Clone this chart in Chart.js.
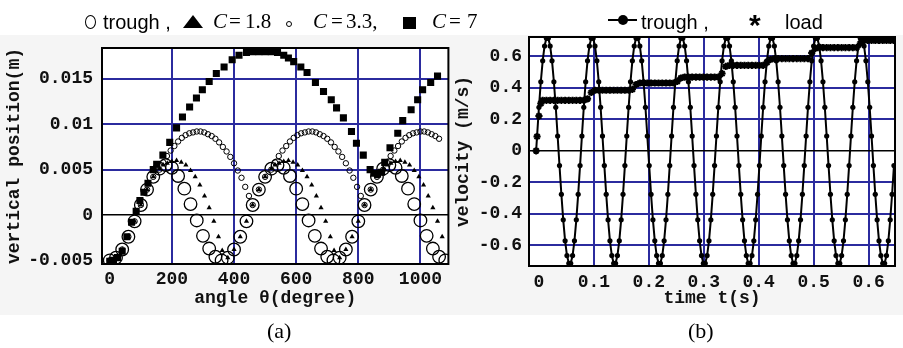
<!DOCTYPE html>
<html><head><meta charset="utf-8">
<script src="https://cdn.jsdelivr.net/npm/chart.js@4.4.1/dist/chart.umd.min.js"></script>
<style>
html,body{margin:0;padding:0;background:#fff;}
body{width:903px;height:348px;position:relative;overflow:hidden;}
#bg{position:absolute;left:0;top:35px;width:903px;height:280px;background:#f5f5f5;}
canvas{position:absolute;top:0;}
#ca{left:0;} #cb{left:450px;}
.t{position:absolute;white-space:nowrap;color:#000;}
.sans{font-family:'Liberation Sans',Arial,sans-serif;font-size:20px;line-height:20px;}
.serif{font-family:'Liberation Serif','Times New Roman',serif;font-size:21px;line-height:21px;}
.shape{position:absolute;box-sizing:border-box;}
</style></head><body>
<div id="bg"></div>
<canvas id="ca" width="456" height="348"></canvas>
<canvas id="cb" width="453" height="348"></canvas>

<!-- legend (a) -->
<div class="shape" style="left:85px;top:15px;width:11px;height:14px;border:1.5px solid #000;border-radius:50%;"></div>
<div class="t sans" style="left:103px;top:12px;">trough ,</div>
<div class="shape" style="left:183px;top:15px;width:20px;height:13px;background:#000;clip-path:polygon(50% 0,100% 100%,0 100%);"></div>
<div class="t serif" style="left:213px;top:11px;"><i>C</i></div>
<div class="t serif" style="left:229px;top:11px;">=</div>
<div class="t serif" style="left:245px;top:11px;">1.8</div>
<div class="shape" style="left:286px;top:21px;width:6px;height:6px;border:1px solid #000;border-radius:50%;"></div>
<div class="t serif" style="left:313px;top:11px;"><i>C</i></div>
<div class="t serif" style="left:331px;top:11px;">=</div>
<div class="t serif" style="left:346px;top:11px;">3.3,</div>
<div class="shape" style="left:403px;top:17px;width:13px;height:12px;background:#000;"></div>
<div class="t serif" style="left:432px;top:11px;"><i>C</i></div>
<div class="t serif" style="left:449px;top:11px;">=</div>
<div class="t serif" style="left:467px;top:11px;">7</div>

<!-- legend (b) -->
<div class="shape" style="left:608px;top:19px;width:29px;height:2px;background:#000;"></div>
<div class="shape" style="left:618px;top:15px;width:10px;height:10px;background:#000;border-radius:50%;"></div>
<div class="t sans" style="left:641px;top:12px;">trough ,</div>
<div class="t sans" style="left:749px;top:10px;font-size:30px;line-height:30px;font-weight:bold;">*</div>
<div class="t sans" style="left:785px;top:12px;">load</div>

<!-- captions -->
<div class="t serif" style="left:267px;top:320px;font-size:22px;line-height:22px;">(a)</div>
<div class="t serif" style="left:688px;top:320px;font-size:22px;line-height:22px;">(b)</div>

<script>
// ---------- Panel (a): vertical position vs angle ----------
const xTicksA = [0, 200, 400, 600, 800, 1000];
const xTickLabelsA = ["0", "200", "400", "600", "800", "1000"];
const yTicksA = [-0.005, 0, 0.005, 0.01, 0.015];
const yTickLabelsA = ["-0.005", "0", "0.005", "0.01", "0.015"];

const thetaTrough = [0,20,40,60,80,100,120,140,160,180,200,220,240,260,280,300,320,340,
  360,380,400,420,440,460,480,500,520,540,560,580,600,620,640,660,680,700,
  720,740,760,780,800,820,840,860,880,900,920,940,960,980,1000,1020,1040,1060,1080];
const posTrough = [
  -0.0050,-0.0047,-0.0038,-0.0024,-0.0007,0.0011,0.0028,0.0042,0.0051,0.0055,0.0052,0.0043,0.0029,0.0012,-0.0006,-0.0023,-0.0037,-0.0046,
  -0.0050,-0.0047,-0.0038,-0.0024,-0.0007,0.0011,0.0028,0.0042,0.0051,0.0055,0.0052,0.0043,0.0029,0.0012,-0.0006,-0.0023,-0.0037,-0.0046,
  -0.0050,-0.0047,-0.0038,-0.0024,-0.0007,0.0011,0.0028,0.0042,0.0051,0.0055,0.0052,0.0043,0.0029,0.0012,-0.0006,-0.0023,-0.0037,-0.0046,
  -0.0050];

const theta18 = [0,20,40,60,80,100,120,140,160,172,185,200,215,230,245,260,275,290,305,320,
  335,350,362,380,400,420,440,460,480,500,520,532,545,560,575,590,605,620,635,650,
  665,680,695,710,722,740,760,780,800,820,840,860,880,892,905,920,935,950,965,980,
  995,1010,1025,1040,1055,1070];
const pos18 = [-0.0050,-0.0047,-0.0038,-0.0024,-0.0007,0.0011,0.0028,0.0042,0.0051,0.0055,
  0.0057,0.0059,0.0060,0.0058,0.0055,0.0049,0.0042,0.0033,0.0021,0.0008,
  -0.0007,-0.0024,-0.0039,-0.0047,-0.0038,-0.0024,-0.0007,0.0011,0.0028,0.0042,
  0.0051,0.0055,0.0057,0.0059,0.0060,0.0058,0.0055,0.0049,0.0042,0.0033,
  0.0021,0.0008,-0.0007,-0.0024,-0.0039,-0.0047,-0.0038,-0.0024,-0.0007,0.0011,
  0.0028,0.0042,0.0051,0.0055,0.0057,0.0059,0.0060,0.0058,0.0055,0.0049,
  0.0042,0.0033,0.0021,0.0008,-0.0007,-0.0024];

const theta33 = [0,20,40,60,80,100,120,140,160,172,184,196,208,220,232,244,256,268,280,292,
  304,316,328,340,352,364,376,388,400,412,424,436,448,460,480,500,520,532,544,556,
  568,580,592,604,616,628,640,652,664,676,688,700,712,724,736,748,760,772,784,796,
  808,820,840,860,880,892,904,916,928,940,952,964,976,988,1000,1012,1024,1036,1048,1060];
const pos33 = [-0.0050,-0.0047,-0.0038,-0.0024,-0.0007,0.0011,0.0028,0.0042,0.0050,0.0058,
  0.0065,0.0071,0.0076,0.0081,0.0085,0.0088,0.0090,0.0091,0.0092,0.0092,
  0.0091,0.0089,0.0087,0.0084,0.0080,0.0075,0.0070,0.0064,0.0057,0.0049,
  0.0041,0.0031,0.0021,0.0011,0.0028,0.0042,0.0050,0.0058,0.0065,0.0071,
  0.0076,0.0081,0.0085,0.0088,0.0090,0.0091,0.0092,0.0092,0.0091,0.0089,
  0.0087,0.0084,0.0080,0.0075,0.0070,0.0064,0.0057,0.0049,0.0041,0.0031,
  0.0021,0.0011,0.0028,0.0042,0.0050,0.0058,0.0065,0.0071,0.0076,0.0081,
  0.0085,0.0088,0.0090,0.0091,0.0092,0.0092,0.0091,0.0089,0.0087,0.0084];

const theta7 = [0,12,25,40,55,70,85,97,110,123,140,151,171,193,215,234,257,279,298,320,
  343,368,394,416,440,460,480,500,520,540,560,575,592,615,635,662,688,713,730,752,
  778,794,816,838,850,862,875,885,902,927,943,970,991,1007,1033,1055];
const pos7 = [-0.0051,-0.0050,-0.0047,-0.0040,-0.0024,-0.0008,0.0004,0.0016,0.0025,0.0035,
  0.0050,0.0056,0.0066,0.0080,0.0096,0.0108,0.0119,0.0129,0.0138,0.0147,
  0.0156,0.0163,0.0171,0.0176,0.0179,0.0180,0.0180,0.0180,0.0180,0.0179,
  0.0176,0.0173,0.0169,0.0163,0.0157,0.0146,0.0136,0.0127,0.0118,0.0107,
  0.0092,0.0079,0.0066,0.0050,0.0046,0.0045,0.0047,0.0058,0.0074,0.0090,
  0.0104,0.0116,0.0127,0.0138,0.0146,0.0153];

// ---------- Panel (b): velocity vs time ----------
const xTicksB = [0, 0.1, 0.2, 0.3, 0.4, 0.5, 0.6];
const xTickLabelsB = ["0", "0.1", "0.2", "0.3", "0.4", "0.5", "0.6"];
const yTicksB = [-0.6, -0.4, -0.2, 0, 0.2, 0.4, 0.6];
const yTickLabelsB = ["-0.6", "-0.4", "-0.2", "0", "0.2", "0.4", "0.6"];

const tTrough = [-0.005,
  -0.0033,0.0001,0.0035,0.0069,0.0103,0.0137,0.0171,0.0205,0.0239,0.0273,0.0307,0.0341,
  0.0375,0.0409,0.0443,0.0477,0.0511,0.0545,0.0579,0.0613,0.0647,0.0681,0.0715,0.0749,
  0.0783,0.0817,0.0851,0.0885,0.0919,0.0953,0.0987,0.1021,0.1055,0.1089,0.1123,0.1157,
  0.1191,0.1225,0.1259,0.1293,0.1327,0.1361,0.1395,0.1429,0.1463,0.1497,0.1531,0.1565,
  0.1599,0.1633,0.1667,0.1701,0.1735,0.1769,0.1803,0.1837,0.1871,0.1905,0.1939,0.1973,
  0.2007,0.2041,0.2075,0.2109,0.2143,0.2177,0.2211,0.2245,0.2279,0.2313,0.2347,0.2381,
  0.2415,0.2449,0.2483,0.2517,0.2551,0.2585,0.2619,0.2653,0.2687,0.2721,0.2755,0.2789,
  0.2823,0.2857,0.2891,0.2925,0.2959,0.2993,0.3027,0.3061,0.3095,0.3129,0.3163,0.3197,
  0.3231,0.3265,0.3299,0.3333,0.3367,0.3401,0.3435,0.3469,0.3503,0.3537,0.3571,0.3605,
  0.3639,0.3673,0.3707,0.3741,0.3775,0.3809,0.3843,0.3877,0.3911,0.3945,0.3979,0.4013,
  0.4047,0.4081,0.4115,0.4149,0.4183,0.4217,0.4251,0.4285,0.4319,0.4353,0.4387,0.4421,
  0.4455,0.4489,0.4523,0.4557,0.4591,0.4625,0.4659,0.4693,0.4727,0.4761,0.4795,0.4829,
  0.4863,0.4897,0.4931,0.4965,0.4999,0.5033,0.5067,0.5101,0.5135,0.5169,0.5203,0.5237,
  0.5271,0.5305,0.5339,0.5373,0.5407,0.5441,0.5475,0.5509,0.5543,0.5577,0.5611,0.5645,
  0.5679,0.5713,0.5747,0.5781,0.5815,0.5849,0.5883,0.5917,0.5951,0.5985,0.6019,0.6053,
  0.6087,0.6121,0.6155,0.6189,0.6223,0.6257,0.6291,0.6325,0.6359,0.6393,0.6427,0.6461];
const vTrough = [0,
  0.094,0.276,0.438,0.571,0.665,0.714,0.714,0.665,0.571,0.438,0.276,0.094,-0.094,-0.276,-0.438,-0.571,-0.665,-0.714,-0.714,-0.665,-0.571,-0.438,-0.276,-0.094,
  0.094,0.276,0.438,0.571,0.665,0.714,0.714,0.665,0.571,0.438,0.276,0.094,-0.094,-0.276,-0.438,-0.571,-0.665,-0.714,-0.714,-0.665,-0.571,-0.438,-0.276,-0.094,
  0.094,0.276,0.438,0.571,0.665,0.714,0.714,0.665,0.571,0.438,0.276,0.094,-0.094,-0.276,-0.438,-0.571,-0.665,-0.714,-0.714,-0.665,-0.571,-0.438,-0.276,-0.094,
  0.094,0.276,0.438,0.571,0.665,0.714,0.714,0.665,0.571,0.438,0.276,0.094,-0.094,-0.276,-0.438,-0.571,-0.665,-0.714,-0.714,-0.665,-0.571,-0.438,-0.276,-0.094,
  0.094,0.276,0.438,0.571,0.665,0.714,0.714,0.665,0.571,0.438,0.276,0.094,-0.094,-0.276,-0.438,-0.571,-0.665,-0.714,-0.714,-0.665,-0.571,-0.438,-0.276,-0.094,
  0.094,0.276,0.438,0.571,0.665,0.714,0.714,0.665,0.571,0.438,0.276,0.094,-0.094,-0.276,-0.438,-0.571,-0.665,-0.714,-0.714,-0.665,-0.571,-0.438,-0.276,-0.094,
  0.094,0.276,0.438,0.571,0.665,0.714,0.714,0.665,0.571,0.438,0.276,0.094,-0.094,-0.276,-0.438,-0.571,-0.665,-0.714,-0.714,-0.665,-0.571,-0.438,-0.276,-0.094,
  0.094,0.276,0.438,0.571,0.665,0.714,0.714,0.665,0.571,0.438,0.276,0.094,-0.094,-0.276,-0.438,-0.571,-0.665,-0.714,-0.714,-0.665,-0.571,-0.438,-0.276,-0.094];

const tLoad = [-0.005,-0.0033,0.0001,0.0035,
  0.0069,0.0137,0.0205,0.0273,0.0341,0.0409,0.0477,0.0545,0.0613,0.0681,0.0749,0.0817,
  0.0885,0.0953,
  0.1021,0.1089,0.1157,0.1225,0.1293,0.1361,0.1429,0.1497,0.1565,0.1633,
  0.1701,0.1769,
  0.1837,0.1905,0.1973,0.2041,0.2109,0.2177,0.2245,0.2313,0.2381,0.2449,
  0.2517,0.2585,
  0.2653,0.2721,0.2789,0.2857,0.2925,0.2993,0.3061,0.3129,0.3197,0.3265,
  0.3333,0.3401,
  0.3469,0.3537,0.3605,0.3673,0.3741,0.3809,0.3877,0.3945,0.4013,0.4081,
  0.4149,0.4217,
  0.4285,0.4353,0.4421,0.4489,0.4557,0.4625,0.4693,0.4761,0.4829,0.4897,
  0.4965,0.5033,
  0.5101,0.5169,0.5237,0.5305,0.5373,0.5441,0.5509,0.5577,0.5645,0.5713,0.5781,
  0.5849,
  0.5917,0.5985,0.6053,0.6121,0.6189,0.6257,0.6325,0.6393,0.6461];
const vLoad = [0,0.09,0.22,0.30,
  0.32,0.32,0.32,0.32,0.32,0.32,0.32,0.32,0.32,0.32,0.32,0.32,
  0.33,0.37,
  0.384,0.384,0.384,0.384,0.384,0.384,0.384,0.384,0.384,0.384,
  0.39,0.42,
  0.43,0.43,0.43,0.43,0.43,0.43,0.43,0.43,0.43,0.43,
  0.44,0.462,
  0.468,0.468,0.468,0.468,0.468,0.468,0.468,0.468,0.468,0.468,
  0.49,0.535,
  0.542,0.542,0.542,0.542,0.542,0.542,0.542,0.542,0.542,0.542,
  0.56,0.58,
  0.585,0.585,0.585,0.585,0.585,0.585,0.585,0.585,0.585,0.585,
  0.62,0.65,
  0.655,0.655,0.655,0.655,0.655,0.655,0.655,0.655,0.655,0.655,0.655,
  0.68,
  0.70,0.70,0.70,0.70,0.70,0.70,0.70,0.70,0.70];

// ---------- helpers ----------
const pts = (xs, ys) => xs.map((x, i) => ({x: x, y: ys[i]}));
const BLUE = '#2b2b9e';
const MONO = "'Liberation Mono', 'Courier New', monospace";
const tickFont = {family: MONO, size: 18, weight: 'bold'};
const CLEAR = 'rgba(0,0,0,0)';

const framePlugin = {
  id: 'frame',
  beforeDraw(chart) {
    const {ctx, chartArea: a} = chart;
    ctx.save(); ctx.fillStyle = '#fff';
    ctx.fillRect(a.left, a.top, a.right - a.left, a.bottom - a.top);
    ctx.restore();
  },
  afterDraw(chart) {
    const {ctx, chartArea: a} = chart;
    ctx.save(); ctx.strokeStyle = '#000'; ctx.lineWidth = 2;
    ctx.strokeRect(a.left, a.top, a.right - a.left, a.bottom - a.top);
    ctx.restore();
  }
};

function axis(opts) {
  return {
    type: 'linear', min: opts.min, max: opts.max,
    afterBuildTicks: s => { s.ticks = opts.ticks.map(v => ({value: v})); },
    afterFit: s => { if (opts.width) s.width = opts.width; if (opts.height) s.height = opts.height; },
    ticks: {font: tickFont, color: '#111', padding: opts.pad, maxRotation: 0, autoSkip: false,
            callback: (v, i) => opts.labels[i]},
    grid: {drawTicks: false,
           color: c => { const v = c.tick ? c.tick.value : null;
                         if (opts.hide && opts.hide.includes(v)) return CLEAR;
                         return v === 0 ? '#000' : BLUE; },
           lineWidth: c => (c.tick && c.tick.value === 0) ? 1.5 : 2},
    border: {display: false},
    title: {display: true, text: opts.title, color: '#111',
            font: {family: MONO, size: 18, weight: 'bold'}, padding: opts.tpad}
  };
}

const common = {
  responsive: false, animation: false, events: [],
  plugins: {legend: {display: false}, tooltip: {enabled: false}}
};

new Chart(document.getElementById('ca'), {
  type: 'scatter',
  data: {datasets: [
    {label: 'C=7', data: pts(theta7, pos7), pointStyle: 'rect', radius: 5,
     backgroundColor: '#000', borderColor: '#000', borderWidth: 0},
    {label: 'C=1.8', data: pts(theta18, pos18), pointStyle: 'triangle', radius: 3,
     backgroundColor: '#000', borderColor: '#000', borderWidth: 0},
    {label: 'C=3.3', data: pts(theta33, pos33), pointStyle: 'circle', radius: 2.7,
     backgroundColor: CLEAR, borderColor: '#000', borderWidth: 1},
    {label: 'trough', data: pts(thetaTrough, posTrough), pointStyle: 'circle', radius: 6.3,
     backgroundColor: CLEAR, borderColor: '#000', borderWidth: 1.3}
  ]},
  options: Object.assign({}, common, {
    layout: {padding: {left: 0, top: 48, right: 5, bottom: 34}},
    scales: {
      x: axis({min: -25, max: 1090, ticks: xTicksA, labels: xTickLabelsA, hide: [0],
               height: 50, pad: 5, title: 'angle θ(degree)', tpad: {top: 0, bottom: 5}}),
      y: axis({min: -0.0054, max: 0.0184, ticks: yTicksA, labels: yTickLabelsA, hide: [-0.005],
               width: 102, pad: 9, title: 'vertical position(m)', tpad: {top: 4, bottom: 0}})
    }
  }),
  plugins: [framePlugin]
});

new Chart(document.getElementById('cb'), {
  type: 'scatter',
  data: {datasets: [
    {label: 'load', data: pts(tLoad, vLoad), pointStyle: 'star', radius: 3.6,
     backgroundColor: '#000', borderColor: '#000', borderWidth: 2, showLine: false},
    {label: 'trough', data: pts(tTrough, vTrough), pointStyle: 'circle', radius: 2.6,
     backgroundColor: '#000', borderColor: '#000', borderWidth: 2, showLine: true, tension: 0,
     pointBorderWidth: 0}
  ]},
  options: Object.assign({}, common, {
    layout: {padding: {left: 0, top: 37, right: 8, bottom: 32}},
    scales: {
      x: axis({min: -0.018, max: 0.648, ticks: xTicksB, labels: xTickLabelsB, hide: [0],
               height: 50, pad: 6, title: 'time t(s)', tpad: {top: 0, bottom: 7}}),
      y: axis({min: -0.731, max: 0.722, ticks: yTicksB, labels: yTickLabelsB,
               width: 79, pad: 7, title: 'velocity (m/s)', tpad: {top: 3, bottom: 0}})
    }
  }),
  plugins: [framePlugin]
});
</script>
</body></html>
